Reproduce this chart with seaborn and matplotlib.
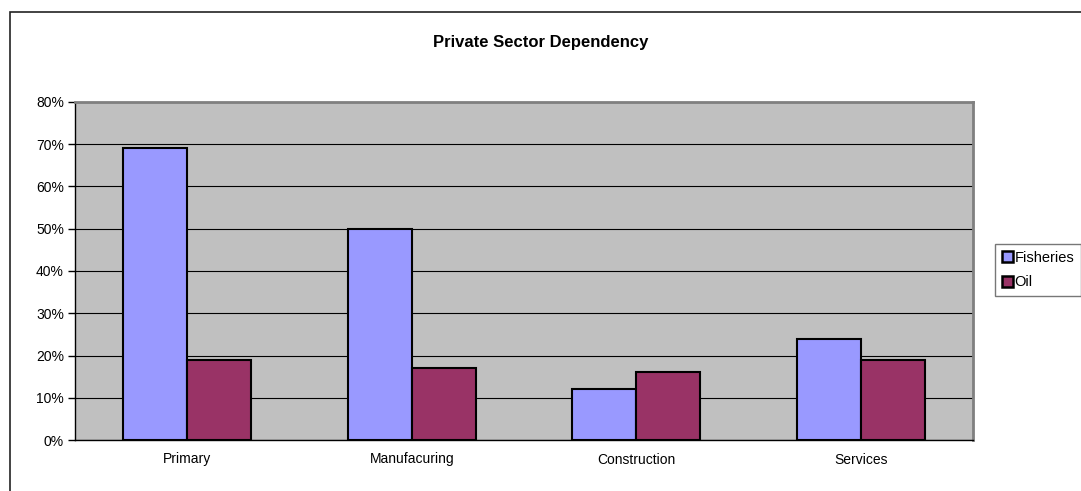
import matplotlib
matplotlib.use("Agg")
import matplotlib.pyplot as plt
import matplotlib.patches as mpatches
import numpy as np
import pandas as pd
import seaborn as sns

# Data
sectors = ["Primary", "Manufacuring", "Construction", "Services"]
fisheries = [69, 50, 12, 24]
oil = [19, 17, 16, 19]
series_names = ["Fisheries", "Oil"]
colors = ["#9999FF", "#993366"]

df = pd.DataFrame({
    "sector": sectors * 2,
    "series": [series_names[0]] * len(sectors) + [series_names[1]] * len(sectors),
    "value": fisheries + oil,
})

sns.set_style("white")
plt.rcParams["font.family"] = ["Liberation Sans", "DejaVu Sans"]
plt.rcParams["text.color"] = "black"
plt.rcParams["xtick.color"] = "black"
plt.rcParams["ytick.color"] = "black"

fig = plt.figure(figsize=(10.81, 4.91), dpi=100)
ax = fig.add_axes([75 / 1081, 51 / 491, 898 / 1081, 338 / 491])

# Outer chart frame (clipped at right and bottom like the original)
fig.patches.append(mpatches.Rectangle((10 / 1081, -0.2), 1.2, 1.2 - 12 / 491,
                                      transform=fig.transFigure, fill=False,
                                      edgecolor="#222222", linewidth=1.2, zorder=0))

sns.barplot(data=df, x="sector", y="value", hue="series", palette=colors,
            width=0.57, edgecolor="black", linewidth=1.5, saturation=1,
            legend=False, ax=ax, zorder=3)

ax.set_facecolor("#C0C0C0")
ax.set_ylim(0, 80)
ax.set_xlim(-0.5, len(sectors) - 0.5)
ax.set_yticks(np.arange(0, 81, 10))
ax.set_yticklabels([f"{v}%" for v in range(0, 81, 10)])
ax.yaxis.grid(True, color="black", linewidth=0.8)
ax.set_axisbelow(True)
ax.set_xlabel("")
ax.set_ylabel("")

# category labels at centers, tick marks at category boundaries
ax.set_xticks(range(len(sectors)))
ax.set_xticklabels(sectors)
ax.tick_params(axis="x", which="major", length=0, pad=9, labelsize=10)
ax.set_xticks(np.arange(-0.5, len(sectors)), minor=True)
ax.tick_params(axis="x", which="minor", length=5, width=1, color="black", direction="out")
ax.tick_params(axis="y", length=5, width=1, color="black", direction="out", labelsize=10, pad=3, left=True)

for side in ["top", "right"]:
    ax.spines[side].set_color("#808080")
    ax.spines[side].set_linewidth(2)
for side in ["left", "bottom"]:
    ax.spines[side].set_color("black")
    ax.spines[side].set_linewidth(1)

fig.text(0.5, 1 - 42 / 491, "Private Sector Dependency", ha="center", va="center",
         fontsize=12, fontweight="bold")

handles = [mpatches.Patch(facecolor=c, edgecolor="black", linewidth=1.8, label=n)
           for c, n in zip(colors, series_names)]
leg = fig.legend(handles=handles, loc="upper left",
                 bbox_to_anchor=(995 / 1081, 1 - 244 / 491),
                 frameon=True, fancybox=False, fontsize=10.5,
                 handlelength=0.75, handleheight=0.75, handletextpad=0.15,
                 borderpad=0.45, labelspacing=0.75, borderaxespad=0)
leg.get_frame().set_edgecolor("#555555")
leg.get_frame().set_linewidth(1)

fig.savefig("out.png", dpi=100)
